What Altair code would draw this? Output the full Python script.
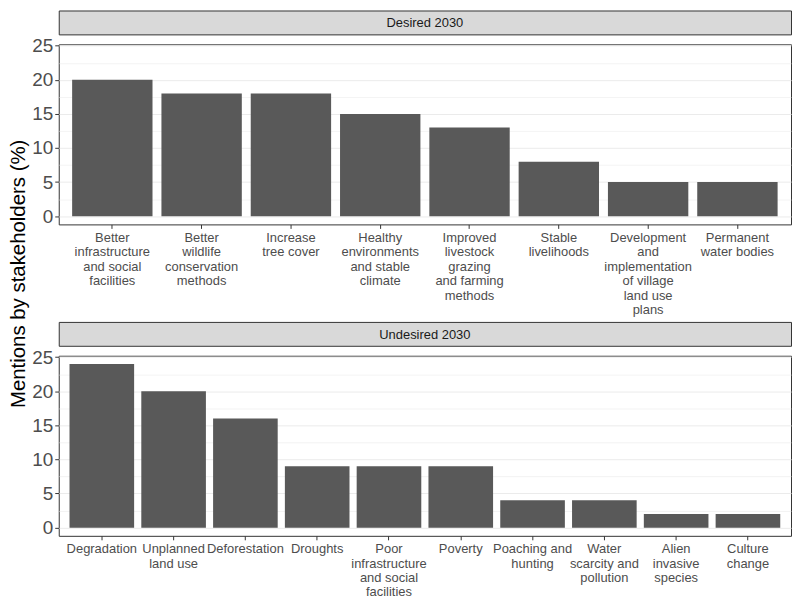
import altair as alt
import pandas as pd

# ---- data ----
desired_labels = [
    "Better\ninfrastructure\nand social\nfacilities",
    "Better\nwildlife\nconservation\nmethods",
    "Increase\ntree cover",
    "Healthy\nenvironments\nand stable\nclimate",
    "Improved\nlivestock\ngrazing\nand farming\nmethods",
    "Stable\nlivelihoods",
    "Development\nand\nimplementation\nof village\nland use\nplans",
    "Permanent\nwater bodies",
]
desired_values = [20, 18, 18, 15, 13, 8, 5, 5]

undesired_labels = [
    "Degradation",
    "Unplanned\nland use",
    "Deforestation",
    "Droughts",
    "Poor\ninfrastructure\nand social\nfacilities",
    "Poverty",
    "Poaching and\nhunting",
    "Water\nscarcity and\npollution",
    "Alien\ninvasive\nspecies",
    "Culture\nchange",
]
undesired_values = [24, 20, 16, 9, 9, 9, 4, 4, 2, 2]

panel_titles = ["Desired 2030", "Undesired 2030"]
y_title = "Mentions by stakeholders (%)"
y_ticks = [0, 2.5, 5, 7.5, 10, 12.5, 15, 17.5, 20, 22.5, 25]

# ---- layout ----
W = 736
H = 181
STRIP = 24
GAP = 4
FONT = "Liberation Sans"
BAR = "#595959"
BORDER = "#333333"

minor = "datum.value % 5 !== 0"


def strip(title):
    df = pd.DataFrame({"panel": [title]})
    return (
        alt.Chart(df)
        .mark_text(font=FONT, fontSize=13, color="#1a1a1a", baseline="middle", align="center")
        .encode(x=alt.value(W / 2), y=alt.value(STRIP / 2 + 1), text="panel:N")
        .properties(width=W, height=STRIP,
                    view=alt.ViewBackground(fill="#d9d9d9", stroke=BORDER, strokeWidth=1))
    )


def panel(labels, values):
    df = pd.DataFrame({"category": labels, "value": values})
    return (
        alt.Chart(df)
        .mark_bar(color=BAR)
        .encode(
            x=alt.X(
                "category:N",
                sort=labels,
                scale=alt.Scale(paddingInner=0.1, paddingOuter=0.15),
                axis=alt.Axis(
                    title=None,
                    labelAngle=0,
                    labelExpr="split(datum.label, '\\n')",
                    labelAlign="center",
                    labelBaseline="top",
                    labelFontSize=13,
                    labelLineHeight=14.5,
                    labelPadding=3,
                    tickSize=4,
                    labelLimit=0,
                ),
            ),
            y=alt.Y(
                "value:Q",
                scale=alt.Scale(domain=[-1.2, 25.2], nice=False, zero=False),
                axis=alt.Axis(
                    title=None,
                    values=y_ticks,
                    labelExpr="datum.value % 5 === 0 ? datum.label : ''",
                    labelFontSize=19,
                    labelPadding=2,
                    tickSize=4,
                    tickOpacity={"condition": {"test": minor, "value": 0}, "value": 1},
                    gridWidth={"condition": {"test": minor, "value": 0.6}, "value": 1},
                ),
            ),
        )
        .properties(width=W, height=H,
                    view=alt.ViewBackground(fill="white", stroke=BORDER, strokeWidth=1))
    )


top = alt.vconcat(strip(panel_titles[0]), panel(desired_labels, desired_values), spacing=0)
bottom = alt.vconcat(strip(panel_titles[1]), panel(undesired_labels, undesired_values), spacing=0)
panels = alt.vconcat(top, bottom, spacing=GAP).resolve_scale(x="independent", y="independent")

# y-title column, centred on the panels block (strip top to bottom plot bottom)
block_h = STRIP + H + 98 + GAP + STRIP + H
title_df = pd.DataFrame({"t": [y_title]})
title_chart = (
    alt.Chart(title_df)
    .mark_text(font=FONT, fontSize=20.5, color="black", angle=270, align="center", baseline="middle")
    .encode(x=alt.value(7), y=alt.value(block_h * 0.517), text="t:N")
    .properties(width=15, height=block_h,
                view=alt.ViewBackground(stroke="transparent"))
)

chart = (
    alt.hconcat(title_chart, panels, spacing=1)
    .properties(padding={"left": 0, "top": 0, "right": 0, "bottom": 0}, background="white")
    .configure_axis(
        labelFont=FONT,
        labelColor="#4d4d4d",
        tickColor=BORDER,
        gridColor="#ebebeb",
        domain=False,
    )
)

chart.save("out.html", embed_options={"renderer": "svg", "actions": False})
